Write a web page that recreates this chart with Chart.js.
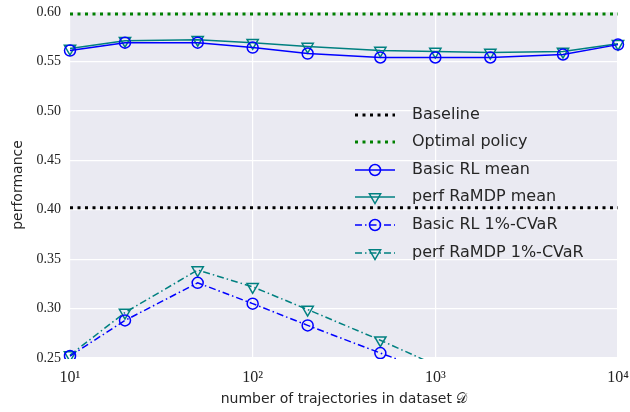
<!DOCTYPE html>
<html><head><meta charset="utf-8">
<script src="https://cdn.jsdelivr.net/npm/chart.js@4"></script>
<style>html,body{margin:0;padding:0;background:#fff}#wrap{width:630px;height:412px}</style>
</head><body><div id="wrap"><canvas id="c" width="630" height="412"></canvas></div>
<script>
const trajectories = [10, 20, 50, 100, 200, 500, 1000, 2000, 5000, 10000];
const basicRLMean = [0.561, 0.569, 0.569, 0.564, 0.558, 0.554, 0.554, 0.554, 0.557, 0.567];
const ramdpMean   = [0.563, 0.571, 0.572, 0.569, 0.565, 0.561, 0.560, 0.559, 0.560, 0.568];
const basicRLCVaR = [0.252, 0.288, 0.326, 0.305, 0.283, 0.255, 0.235, null, null, null];
const ramdpCVaR   = [0.253, 0.296, 0.339, 0.322, 0.299, 0.268, 0.243, null, null, null];
const baselineValue = 0.402;
const optimalValue = 0.598;
const xTickValues = [10, 100, 1000, 10000];
const xTickLabels = ['10¹', '10²', '10³', '10⁴'];
const yTickLabels = ['0.25','0.30','0.35','0.40','0.45','0.50','0.55','0.60'];

const pts = arr => trajectories.map((x, i) => ({x, y: arr[i]}));
const hline = v => [{x: trajectories[0], y: v}, {x: trajectories[trajectories.length-1], y: v}];
const BLUE = '#0000ff', TEAL = '#008080';
const DOT = [3, 4.5], DASHDOT = [7, 3, 1.5, 3];

const datasets = [
  {label:'Baseline', data: hline(baselineValue), borderColor:'#000', borderWidth:3, borderDash:DOT, pointRadius:0, mk:null},
  {label:'Optimal policy', data: hline(optimalValue), borderColor:'#008000', borderWidth:3, borderDash:DOT, pointRadius:0, mk:null},
  {label:'Basic RL mean', data: pts(basicRLMean), borderColor:BLUE, borderWidth:1.5, pointStyle:'circle', pointRadius:5.5, mk:'circle'},
  {label:'perf RaMDP mean', data: pts(ramdpMean), borderColor:TEAL, borderWidth:1.5, pointStyle:'triangle', rotation:180, pointRadius:6.5, mk:'tri'},
  {label:'Basic RL 1%-CVaR', data: pts(basicRLCVaR), borderColor:BLUE, borderWidth:1.5, borderDash:DASHDOT, pointStyle:'circle', pointRadius:5.5, mk:'circle'},
  {label:'perf RaMDP 1%-CVaR', data: pts(ramdpCVaR), borderColor:TEAL, borderWidth:1.5, borderDash:DASHDOT, pointStyle:'triangle', rotation:180, pointRadius:6.5, mk:'tri'}
].map(d => Object.assign({pointBackgroundColor:'rgba(0,0,0,0)', pointBorderColor:d.borderColor, pointBorderWidth:1.5, fill:false, tension:0, spanGaps:false, clip:false}, d));

const bgPlugin = {
  id:'bg',
  beforeDraw(chart){
    const {ctx, chartArea:a} = chart;
    ctx.save(); ctx.fillStyle='#eaeaf2'; ctx.fillRect(a.left, a.top, a.right-a.left, a.bottom-a.top); ctx.restore();
  }
};
const clipPlugin = {
  id:'clipper',
  beforeDatasetsDraw(chart){ const {ctx, chartArea:a}=chart; ctx.save(); ctx.beginPath(); ctx.rect(a.left-8, a.top-8, a.right-a.left+16, a.bottom-a.top+8+1); ctx.clip(); },
  afterDatasetsDraw(chart){ chart.ctx.restore(); }
};
const legendPlugin = {
  id:'legendIn',
  afterDraw(chart){
    const ctx = chart.ctx;
    ctx.save();
    const x0 = 355, x1 = 395, tx = 412;
    const ys = [115, 142, 170, 197, 225, 253];
    chart.data.datasets.forEach((d, i) => {
      const y = ys[i];
      ctx.strokeStyle = d.borderColor; ctx.lineWidth = d.borderWidth;
      ctx.setLineDash(d.borderDash || []);
      ctx.beginPath(); ctx.moveTo(x0, y); ctx.lineTo(x1, y); ctx.stroke();
      ctx.setLineDash([]);
      ctx.lineWidth = 1.5;
      const cx = (x0+x1)/2;
      if (d.mk === 'circle') { ctx.beginPath(); ctx.arc(cx, y, 5.5, 0, Math.PI*2); ctx.stroke(); }
      else if (d.mk === 'tri') { const r=6.5; ctx.beginPath(); ctx.moveTo(cx-r*0.866, y-r*0.5); ctx.lineTo(cx+r*0.866, y-r*0.5); ctx.lineTo(cx, y+r); ctx.closePath(); ctx.stroke(); }
      ctx.fillStyle = '#262626'; ctx.font = '16px "DejaVu Sans"'; ctx.textBaseline = 'middle';
      ctx.fillText(d.label, tx, y);
    });
    ctx.restore();
  }
};

new Chart(document.getElementById('c'), {
  type:'line',
  data:{datasets},
  plugins:[bgPlugin, clipPlugin, legendPlugin],
  options:{
    responsive:false, animation:false, devicePixelRatio:1,
    layout:{padding:{top:6, right:0, left:0, bottom:0}},
    plugins:{legend:{display:false}, tooltip:{enabled:false}},
    scales:{
      x:{type:'logarithmic', min:10, max:10000,
        afterBuildTicks(s){ s.ticks = xTickValues.map(v => ({value:v})); },
        afterFit(s){ s.height = 54; s.paddingRight = 12; },
        grid:{color:'#ffffff', lineWidth:1.2, drawTicks:false},
        border:{display:false},
        ticks:{padding:10, maxRotation:0, autoSkip:false, color:'#222', font:{family:'"Liberation Serif"', size:16},
          callback(v){ const i = xTickValues.indexOf(v); return i>=0 ? xTickLabels[i] : ''; }},
        title:{display:true, text:'number of trajectories in dataset 𝒟', color:'#262626', font:{family:'"DejaVu Sans"', size:14}, padding:{top:0,bottom:4}}
      },
      y:{min:0.25, max:0.60,
        afterBuildTicks(s){ s.ticks = yTickLabels.map(t => ({value: parseFloat(t)})); },
        afterFit(s){ s.width = 70; s.paddingTop = 12; },
        grid:{color:'#ffffff', lineWidth:1.2, drawTicks:false},
        border:{display:false},
        ticks:{padding:9, color:'#222', font:{family:'"Liberation Serif"', size:14},
          callback(v){ const i = yTickLabels.findIndex(t => Math.abs(parseFloat(t)-v)<1e-9); return i>=0 ? yTickLabels[i] : ''; }},
        title:{display:true, text:'performance', color:'#262626', font:{family:'"DejaVu Sans"', size:14}, padding:{top:10,bottom:0}}
      }
    }
  }
});
</script></body></html>
